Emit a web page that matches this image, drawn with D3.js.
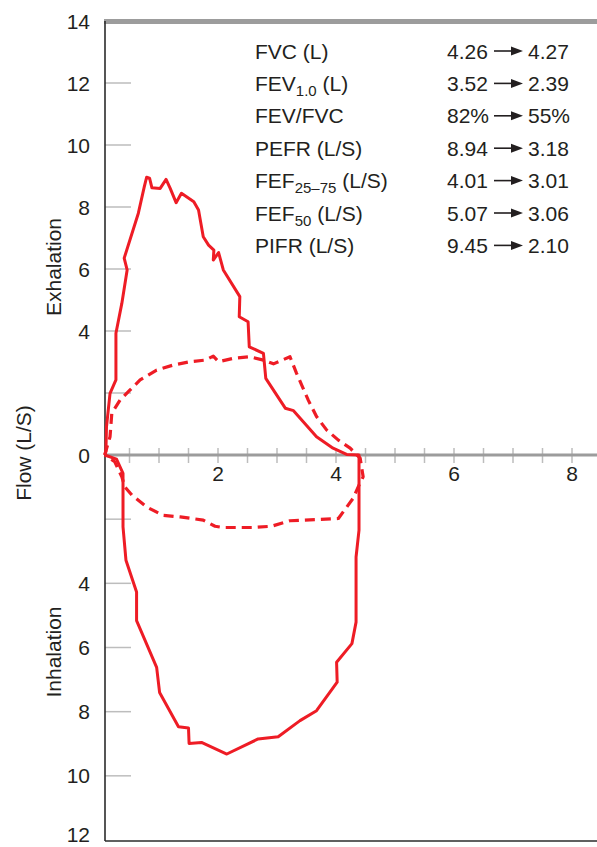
<!DOCTYPE html>
<html>
<head>
<meta charset="utf-8">
<script src="https://cdn.jsdelivr.net/npm/d3@7"></script>
<style>
  html, body { margin: 0; padding: 0; background: #ffffff; }
  svg { display: block; }
  text { font-family: "Liberation Sans", Arial, Helvetica, sans-serif; fill: #231f20; }
</style>
</head>
<body>
<svg id="chart" width="597" height="847"></svg>
<script>
// ---------- DATA ----------
// Normal (solid) loop: [volume (L), flow (L/S)]; positive = exhalation, negative = inhalation
const normalVolume = [0.08,0.10,0.11,0.17,0.27,0.27,0.37,0.46,0.41,0.65,0.75,0.79,0.84,0.88,1.02,1.12,1.19,1.29,1.38,1.59,1.67,1.75,1.84,1.93,1.92,2.01,2.09,2.37,2.36,2.51,2.53,2.77,2.81,3.14,3.28,3.67,3.95,4.18,4.39,
  4.39,4.34,4.34,4.27,4.01,4.02,3.67,3.39,3.02,2.68,2.15,1.72,1.51,1.50,1.33,1.01,0.96,0.62,0.62,0.44,0.39,0.39,0.28,0.08];
const normalFlow = [0,0.11,0.91,1.99,2.42,3.93,4.89,5.97,6.35,7.80,8.65,8.96,8.93,8.62,8.60,8.89,8.60,8.14,8.44,8.17,7.90,7.04,6.77,6.61,6.29,6.53,5.97,5.11,4.46,4.30,3.49,3.28,2.47,1.51,1.43,0.59,0.22,0.02,0,
  -2.34,-3.18,-5.21,-5.88,-6.46,-7.08,-7.97,-8.28,-8.78,-8.85,-9.32,-8.96,-8.99,-8.51,-8.47,-7.40,-6.62,-5.16,-4.27,-3.28,-2.24,-0.57,-0.13,0];

// Obstructed (dashed) loop
const obstructedVolume = [0.08,0.17,0.20,0.34,0.51,0.68,0.96,1.24,1.53,1.78,1.92,2.01,2.26,2.54,2.77,2.94,3.22,3.33,3.53,3.67,3.84,4.04,4.24,4.41,
  4.46,4.39,4.29,4.04,3.22,2.91,2.60,2.09,1.95,1.75,1.36,1.07,0.79,0.54,0.42,0.37,0.25,0.08];
const obstructedFlow = [0,0.59,1.35,1.77,2.10,2.42,2.74,2.90,3.01,3.06,3.19,3.01,3.12,3.17,3.06,2.94,3.17,2.64,1.77,1.24,0.81,0.48,0.22,-0.10,
  -0.68,-0.94,-1.35,-1.98,-2.05,-2.22,-2.26,-2.26,-2.22,-2.03,-1.93,-1.88,-1.62,-1.25,-0.99,-0.68,-0.21,0];

// Axis ticks
const xTickLabels = [2, 4, 6, 8];
const yLabelValues = [14, 12, 10, 8, 6, 4, 0, -4, -6, -8, -10, -12];
const yTickLines = [12, 10, 8, 6, 4, 2, -2, -4, -6, -8, -10];

// Table of measurements
const metricBase = ["FVC", "FEV", "FEV/FVC", "PEFR", "FEF", "FEF", "PIFR"];
const metricSub  = ["", "1.0", "", "", "25–75", "50", ""];
const metricUnit = [" (L)", " (L)", "", " (L/S)", " (L/S)", " (L/S)", " (L/S)"];
const beforeValues = ["4.26", "3.52", "82%", "8.94", "4.01", "5.07", "9.45"];
const afterValues  = ["4.27", "2.39", "55%", "3.18", "3.01", "3.06", "2.10"];

// ---------- CHART ----------
const svg = d3.select("#chart");
const red = "#ee1c25";
const gray = "#9c9c9c";
const dark = "#2b2b2b";
const fs = 21;

const x = d3.scaleLinear().domain([0, 8]).range([100, 572]);
const y = d3.scaleLinear().domain([14, 0, -12]).range([21, 455, 840]);
const axisX = 105;

// y tick lines (gray, inside)
svg.append("g").selectAll("line").data(yTickLines).join("line")
  .attr("x1", axisX).attr("x2", axisX + 26)
  .attr("y1", d => y(d)).attr("y2", d => y(d))
  .attr("stroke", "#bdbdbd").attr("stroke-width", 1.5);

// x axis minor ticks
const xMinor = d3.range(0.5, 8.6, 0.5);
svg.append("g").selectAll("line").data(xMinor).join("line")
  .attr("x1", d => x(d)).attr("x2", d => x(d))
  .attr("y1", y(0) - 7).attr("y2", y(0) + 8)
  .attr("stroke", "#bdbdbd").attr("stroke-width", 1.5);

// x axis line (zero)
svg.append("line").attr("x1", axisX).attr("x2", 597)
  .attr("y1", y(0)).attr("y2", y(0))
  .attr("stroke", gray).attr("stroke-width", 3);

// top gray bar
svg.append("line").attr("x1", axisX - 1).attr("x2", 597)
  .attr("y1", y(14) + 0.5).attr("y2", y(14) + 0.5)
  .attr("stroke", gray).attr("stroke-width", 5);

// y axis line
svg.append("line").attr("x1", axisX).attr("x2", axisX)
  .attr("y1", y(14)).attr("y2", y(-12) + 1)
  .attr("stroke", dark).attr("stroke-width", 1.6);

// bottom line
svg.append("line").attr("x1", axisX).attr("x2", 597)
  .attr("y1", y(-12) + 1).attr("y2", y(-12) + 1)
  .attr("stroke", dark).attr("stroke-width", 1.6);

// y labels
svg.append("g").selectAll("text").data(yLabelValues).join("text")
  .attr("x", 90).attr("y", d => Math.min(y(d) + 7.5, 842))
  .attr("text-anchor", "end")
  .attr("font-size", fs)
  .text(d => Math.abs(d));

// x labels
svg.append("g").selectAll("text").data(xTickLabels).join("text")
  .attr("x", d => x(d)).attr("y", y(0) + 26)
  .attr("text-anchor", "middle")
  .attr("font-size", fs)
  .text(d => d);

// axis titles
function vText(cx, cy, str) {
  svg.append("text")
    .attr("transform", `translate(${cx},${cy}) rotate(-90)`)
    .attr("text-anchor", "middle").attr("dy", "0.36em")
    .attr("font-size", fs).text(str);
}
vText(23, 453, "Flow (L/S)");
vText(53, 267, "Exhalation");
vText(53, 652, "Inhalation");

// curves
const line = d3.line().x(d => x(d[0])).y(d => y(d[1])).curve(d3.curveLinear);
const normalPts = normalVolume.map((v, i) => [v, normalFlow[i]]);
const obstructedPts = obstructedVolume.map((v, i) => [v, obstructedFlow[i]]);

svg.append("path").datum(obstructedPts)
  .attr("d", line)
  .attr("fill", "none").attr("stroke", red).attr("stroke-width", 3.2)
  .attr("stroke-dasharray", "10,6").attr("stroke-linejoin", "round");

svg.append("path").datum(normalPts)
  .attr("d", line)
  .attr("fill", "none").attr("stroke", red).attr("stroke-width", 3)
  .attr("stroke-linejoin", "round");

// table
const rowY = i => 58.5 + i * 32.4;
const rows = svg.append("g").selectAll("g").data(metricBase).join("g");
rows.each(function(base, i) {
  const g = d3.select(this);
  const t = g.append("text").attr("x", 255).attr("y", rowY(i)).attr("font-size", fs);
  t.append("tspan").text(base);
  if (metricSub[i]) {
    t.append("tspan").attr("font-size", 15).attr("dy", 5).text(metricSub[i]);
    t.append("tspan").attr("dy", -5).text(metricUnit[i]);
  } else {
    t.append("tspan").text(metricUnit[i]);
  }
  g.append("text").attr("x", 447).attr("y", rowY(i)).attr("font-size", fs).text(beforeValues[i]);
  g.append("text").attr("x", 528).attr("y", rowY(i)).attr("font-size", fs).text(afterValues[i]);
  const ay = rowY(i) - 7.5;
  g.append("line").attr("x1", 494).attr("x2", 515).attr("y1", ay).attr("y2", ay)
    .attr("stroke", "#231f20").attr("stroke-width", 1.6);
  g.append("path").attr("d", `M511,${ay - 4.5}L523,${ay}L511,${ay + 4.5}Z`).attr("fill", "#231f20");
});
</script>
</body>
</html>
